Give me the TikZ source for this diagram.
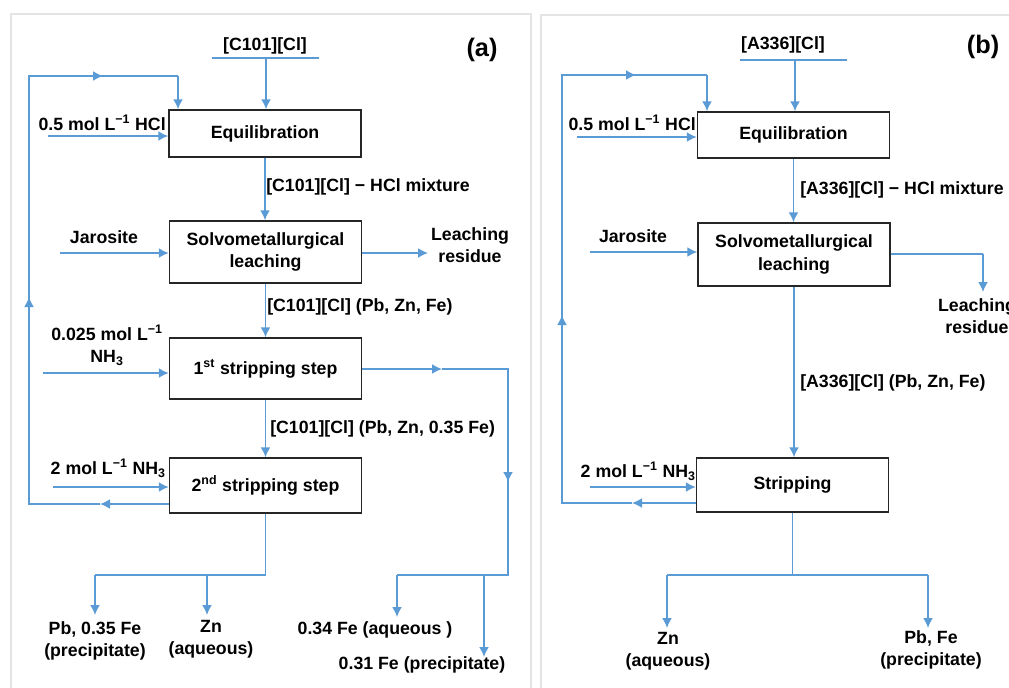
\documentclass[tikz,border=0pt]{standalone}
\usepackage{fontspec}
\setmainfont{Liberation Sans}
\usetikzlibrary{arrows.meta}
\definecolor{flowc}{HTML}{5B9BD5}
\definecolor{panelc}{HTML}{E4E4E4}
\begin{document}
\begin{tikzpicture}[x=0.75pt,y=-0.75pt,
  flow/.style={draw=flowc, line width=1.3pt},
  arr/.style={flow,-{Latex[length=7.5pt,width=7.5pt]}},
  box/.style={draw=black!85, line width=1.1pt, minimum width=144pt, inner sep=0pt, align=center, font=\bfseries\fontsize{13.3}{16.8}\selectfont, fill=white},
  txt/.style={inner sep=0pt, align=center, font=\bfseries\fontsize{13.3}{16.8}\selectfont},
  big/.style={inner sep=0pt, font=\bfseries\fontsize{19}{22}\selectfont},
  panel/.style={draw=panelc, line width=1.5pt}]
\useasboundingbox (0,0) rectangle (1009,687);
\clip (0,0) rectangle (1009,687);
\fill[white] (0,0) rectangle (1009,687);
\draw[panel] (11,14) rectangle (531,700);
\draw[panel] (541,15) rectangle (1030,700);

% ---------------- Panel (a) ----------------
\node[big] (laba) at (482,50) {(a)};
\node[box, minimum height=35.25pt] (eqa) at (265,133.5) {Equilibration};
\node[box, minimum height=46.5pt] (sola) at (265.5,252) {Solvometallurgical\\leaching};
\node[box, minimum height=45.75pt] (s1a) at (265.5,368.5) {1\textsuperscript{st} stripping step};
\node[box, minimum height=41.25pt] (s2a) at (265.5,485.5) {2\textsuperscript{nd} stripping step};

\node[txt] (ila) at (265,46) {[C101][Cl]};
\coordinate (ila1) at (212,58);
\coordinate (ila2) at (319,58);
\coordinate (ilam) at (266,58);
\draw[flow] (ila1) -- (ila2);
\draw[arr] (ilam) -- (ilam |- eqa.north);

\node[txt, anchor=east] (hcla) at (166,123) {0.5 mol L\textsuperscript{−1} HCl};
\coordinate (hclas) at (48,136);
\draw[arr] (hclas) -- (hclas -| eqa.west);

\draw[arr] (eqa.south) -- (eqa.south |- sola.north);
\node[txt, anchor=west] (mixa) at (266,187) {[C101][Cl] − HCl mixture};

\node[txt] (jara) at (104,237) {Jarosite};
\coordinate (jaras) at (60,253);
\draw[arr] (jaras) -- (jaras -| sola.west);

\node[txt] (resa) at (470,245) {Leaching\\residue};
\coordinate (resat) at (428,253);
\draw[arr] (resat -| sola.east) -- (resat);

\draw[arr] (sola.south) -- (sola.south |- s1a.north);
\node[txt, anchor=west] (loada) at (267,307) {[C101][Cl] (Pb, Zn, Fe)};

\node[txt] (nh1a) at (107,345) {0.025 mol L\textsuperscript{−1}\\NH\textsubscript{3}};
\coordinate (nh1as) at (43,373);
\draw[arr] (nh1as) -- (nh1as -| s1a.west);

\draw[arr] (s1a.south) -- (s1a.south |- s2a.north);
\node[txt, anchor=west] (load2a) at (270,429) {[C101][Cl] (Pb, Zn, 0.35 Fe)};

\node[txt, anchor=east] (nh2a) at (166,468) {2 mol L\textsuperscript{−1} NH\textsubscript{3}};
\coordinate (nh2as) at (53,487);
\draw[arr] (nh2as) -- (nh2as -| s2a.west);

% recycle loop (a)
\coordinate (ra1) at (100,504);
\coordinate (ra2) at (29,504);
\coordinate (ra3) at (29,297);
\coordinate (ra4) at (29,76);
\coordinate (ra5) at (103,76);
\coordinate (ra6) at (178,76);
\draw[arr] (ra1 -| s2a.west) -- (ra1);
\draw[flow] (ra1) -- (ra2) -- (ra3);
\draw[arr] (ra2) -- (ra3);
\draw[flow] (ra3) -- (ra4) -- (ra5);
\draw[arr] (ra4) -- (ra5);
\draw[flow] (ra5) -- (ra6);
\draw[arr] (ra6) -- (ra6 |- eqa.north);

% Fe path from 1st stripping
\coordinate (fa1) at (442,369);
\coordinate (fa2) at (508,369);
\coordinate (fa3) at (508,482);
\coordinate (fa4) at (508,575);
\coordinate (fa5) at (397,575);
\coordinate (fa6) at (397,617);
\coordinate (fa7) at (484,575);
\coordinate (fa8) at (484,657);
\draw[arr] (s1a.east |- fa1) -- (fa1);
\draw[flow] (fa1) -- (fa2) -- (fa3);
\draw[arr] (fa2) -- (fa3);
\draw[flow] (fa3) -- (fa4) -- (fa5);
\draw[arr] (fa5) -- (fa6);
\draw[arr] (fa7) -- (fa8);
\node[txt] (fe34) at (375,630) {0.34 Fe (aqueous )};
\node[txt] (fe31) at (422,665) {0.31 Fe (precipitate)};

% products of 2nd stripping
\coordinate (pa1) at (265.5,575);
\coordinate (pa2) at (95,575);
\coordinate (pa3) at (95,615);
\coordinate (pa4) at (207,575);
\coordinate (pa5) at (207,615);
\draw[flow] (s2a.south) -- (pa1) -- (pa2);
\draw[arr] (pa2) -- (pa3);
\draw[arr] (pa4) -- (pa5);
\node[txt] (pba) at (95,641) {Pb, 0.35 Fe\\(precipitate)};
\node[txt] (zna) at (211,639) {Zn\\(aqueous)};

% ---------------- Panel (b) ----------------
\node[big] (labb) at (983,47) {(b)};
\node[box, minimum height=34.5pt] (eqb) at (793.5,135) {Equilibration};
\node[box, minimum height=47.25pt] (solb) at (794,254.5) {Solvometallurgical\\leaching};
\node[box, minimum height=40.5pt] (stb) at (792.5,485) {Stripping};

\node[txt] (ilb) at (783,45) {[A336][Cl]};
\coordinate (ilb1) at (740,60);
\coordinate (ilb2) at (847,60);
\coordinate (ilbm) at (795,60);
\draw[flow] (ilb1) -- (ilb2);
\draw[arr] (ilbm) -- (ilbm |- eqb.north);

\node[txt, anchor=east] (hclb) at (696,123) {0.5 mol L\textsuperscript{−1} HCl};
\coordinate (hclbs) at (577,137);
\draw[arr] (hclbs) -- (hclbs -| eqb.west);

\draw[arr] (eqb.south) -- (eqb.south |- solb.north);
\node[txt, anchor=west] (mixb) at (800,190) {[A336][Cl] − HCl mixture};

\node[txt] (jarb) at (633,236) {Jarosite};
\coordinate (jarbs) at (590,252);
\draw[arr] (jarbs) -- (jarbs -| solb.west);

\coordinate (rb1) at (983,254);
\coordinate (rb2) at (983,292);
\draw[flow] (rb1 -| solb.east) -- (rb1);
\draw[arr] (rb1) -- (rb2);
\node[txt] (resb) at (977,316) {Leaching\\residue};

\draw[arr] (solb.south) -- (solb.south |- stb.north);
\node[txt, anchor=west] (loadb) at (800,383) {[A336][Cl] (Pb, Zn, Fe)};

\node[txt, anchor=east] (nh2b) at (696,471) {2 mol L\textsuperscript{−1} NH\textsubscript{3}};
\coordinate (nh2bs) at (590,487);
\draw[arr] (nh2bs) -- (nh2bs -| stb.west);

% recycle loop (b)
\coordinate (lb1) at (632,503);
\coordinate (lb2) at (562,503);
\coordinate (lb3) at (562,315);
\coordinate (lb4) at (562,75);
\coordinate (lb5) at (636,75);
\coordinate (lb6) at (707,75);
\draw[arr] (lb1 -| stb.west) -- (lb1);
\draw[flow] (lb1) -- (lb2) -- (lb3);
\draw[arr] (lb2) -- (lb3);
\draw[flow] (lb3) -- (lb4) -- (lb5);
\draw[arr] (lb4) -- (lb5);
\draw[flow] (lb5) -- (lb6);
\draw[arr] (lb6) -- (lb6 |- eqb.north);

% products (b)
\coordinate (pb1) at (792.5,575);
\coordinate (pb2) at (667,575);
\coordinate (pb3) at (667,628);
\coordinate (pb4) at (928,575);
\coordinate (pb5) at (928,628);
\draw[flow] (stb.south) -- (pb1);
\draw[flow] (pb2) -- (pb4);
\draw[arr] (pb2) -- (pb3);
\draw[arr] (pb4) -- (pb5);
\node[txt] (znb) at (668,651) {Zn\\(aqueous)};
\node[txt] (pbb) at (931,650) {Pb, Fe\\(precipitate)};
\end{tikzpicture}
\end{document}
